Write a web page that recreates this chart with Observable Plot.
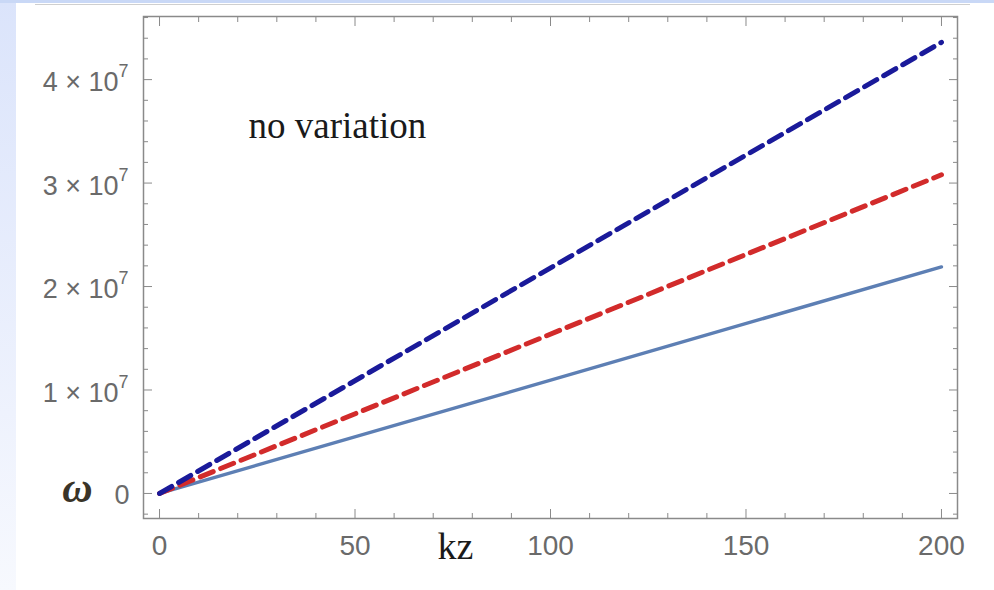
<!DOCTYPE html>
<html>
<head>
<meta charset="utf-8">
<script src="https://cdn.jsdelivr.net/npm/d3@7"></script>
<script src="https://cdn.jsdelivr.net/npm/@observablehq/plot@0.6"></script>
<style>
  html, body { margin: 0; padding: 0; background: #ffffff; width: 994px; height: 590px; overflow: hidden; }
  #wrap { position: relative; width: 994px; height: 590px; }
  #chart { position: absolute; left: 0; top: 0; }
  .stripL { position: absolute; left: 0; top: 0; width: 16px; height: 590px;
            background: linear-gradient(to bottom, #dbe4fb, #eef2fd 70%, #f7f9fe); }
  .stripT { position: absolute; left: 0; top: 0; width: 994px; height: 3px; background: #c9d8f6; }
  .rule { position: absolute; left: 35px; top: 4px; width: 935px; height: 1px; background: #cfcfcf; }
</style>
</head>
<body>
<div id="wrap">
  <div id="chart"></div>
  <div class="stripL"></div>
  <div class="stripT"></div>
  <div class="rule"></div>
</div>
<script>
// Data
const kz = [0, 200];
const omegaBlueDashed = [0, 4.36e7];
const omegaRedDashed = [0, 3.08e7];
const omegaSolid = [0, 2.19e7];

const xMajorTicks = [0, 50, 100, 150, 200];
const xMinorTicks = d3.range(0, 201, 10).filter(v => v % 50 !== 0);
const yMajorTicks = [0, 1e7, 2e7, 3e7, 4e7];
const yMinorTicks = d3.range(-2e6, 4.61e7, 2e6).filter(v => Math.abs(v % 1e7) > 1);

const annotation = "no variation";
const xLabel = "kz";
const yLabel = "ω";

const series = (ys) => kz.map((k, i) => ({kz: k, omega: ys[i]}));

const tickColor = "#8a8a8a";
const labelColor = "#6a6a6a";
const sansFont = "'Liberation Sans', Arial, sans-serif";
const serifFont = "'Liberation Serif', 'Times New Roman', serif";

const yNonZero = yMajorTicks.filter(d => d !== 0);
const yZero = yMajorTicks.filter(d => d === 0);

const plot = Plot.plot({
  width: 994,
  height: 590,
  marginLeft: 143,
  marginRight: 37,
  marginTop: 16,
  marginBottom: 72,
  style: {background: "transparent", fontFamily: sansFont},
  x: {domain: [-4.1, 204.1]},
  y: {domain: [-2.42e6, 4.61e7]},
  marks: [
    Plot.frame({stroke: tickColor, strokeWidth: 1.5}),
    // inward ticks, all four sides
    Plot.axisX(xMajorTicks, {anchor: "bottom", tickSize: -9, text: null, stroke: tickColor, label: null}),
    Plot.axisX(xMinorTicks, {anchor: "bottom", tickSize: -5, text: null, stroke: tickColor, label: null}),
    Plot.axisX(xMajorTicks, {anchor: "top", tickSize: -9, text: null, stroke: tickColor, label: null}),
    Plot.axisX(xMinorTicks, {anchor: "top", tickSize: -5, text: null, stroke: tickColor, label: null}),
    Plot.axisY(yMajorTicks, {anchor: "left", tickSize: -9, text: null, stroke: tickColor, label: null}),
    Plot.axisY(yMinorTicks, {anchor: "left", tickSize: -5, text: null, stroke: tickColor, label: null}),
    Plot.axisY(yMajorTicks, {anchor: "right", tickSize: -9, text: null, stroke: tickColor, label: null}),
    Plot.axisY(yMinorTicks, {anchor: "right", tickSize: -5, text: null, stroke: tickColor, label: null}),
    // x tick labels
    Plot.axisX(xMajorTicks, {anchor: "bottom", tickSize: 0, tickPadding: 17, fontSize: 28, fill: labelColor, label: null, tickFormat: d => String(d)}),
    // y tick labels: mantissa × 10 with superscript exponent
    Plot.text(yZero, {y: d => d, text: d => "0", frameAnchor: "left", dx: -14, dy: 2, textAnchor: "end",
      fontSize: 27, fill: labelColor}),
    Plot.text(yNonZero, {y: d => d, text: d => `${Math.round(d / 1e7)} × 10`, frameAnchor: "left", dx: -25, dy: 3, textAnchor: "end",
      fontSize: 27, fill: labelColor}),
    Plot.text(yNonZero, {y: d => d, text: d => "7", frameAnchor: "left", dx: -25, dy: -8, textAnchor: "start",
      fontSize: 18, fill: labelColor}),
    // data
    Plot.line(series(omegaSolid), {x: "kz", y: "omega", stroke: "#5d7fb4", strokeWidth: 3.4}),
    Plot.line(series(omegaRedDashed), {x: "kz", y: "omega", stroke: "#d22b2b", strokeWidth: 5, strokeDasharray: "14,8"}),
    Plot.line(series(omegaBlueDashed), {x: "kz", y: "omega", stroke: "#1a1a9a", strokeWidth: 5, strokeDasharray: "14,8"}),
    // annotations
    Plot.text([annotation], {frameAnchor: "top-left", dx: 105, dy: 110, textAnchor: "start", lineAnchor: "middle",
      fontSize: 37, fontFamily: serifFont, fill: "#1a1a1a"}),
    Plot.text([xLabel], {frameAnchor: "bottom", dx: -95, dy: 28, textAnchor: "middle", lineAnchor: "middle",
      fontSize: 38, fontFamily: serifFont, fill: "#1a1a1a"}),
    Plot.text([yLabel], {frameAnchor: "bottom-left", dx: -66, dy: -30, textAnchor: "middle", lineAnchor: "middle",
      fontSize: 42, fontWeight: "bold", fontStyle: "italic", fontFamily: serifFont, fill: "#3a3428"})
  ]
});
document.getElementById("chart").appendChild(plot);
</script>
</body>
</html>
